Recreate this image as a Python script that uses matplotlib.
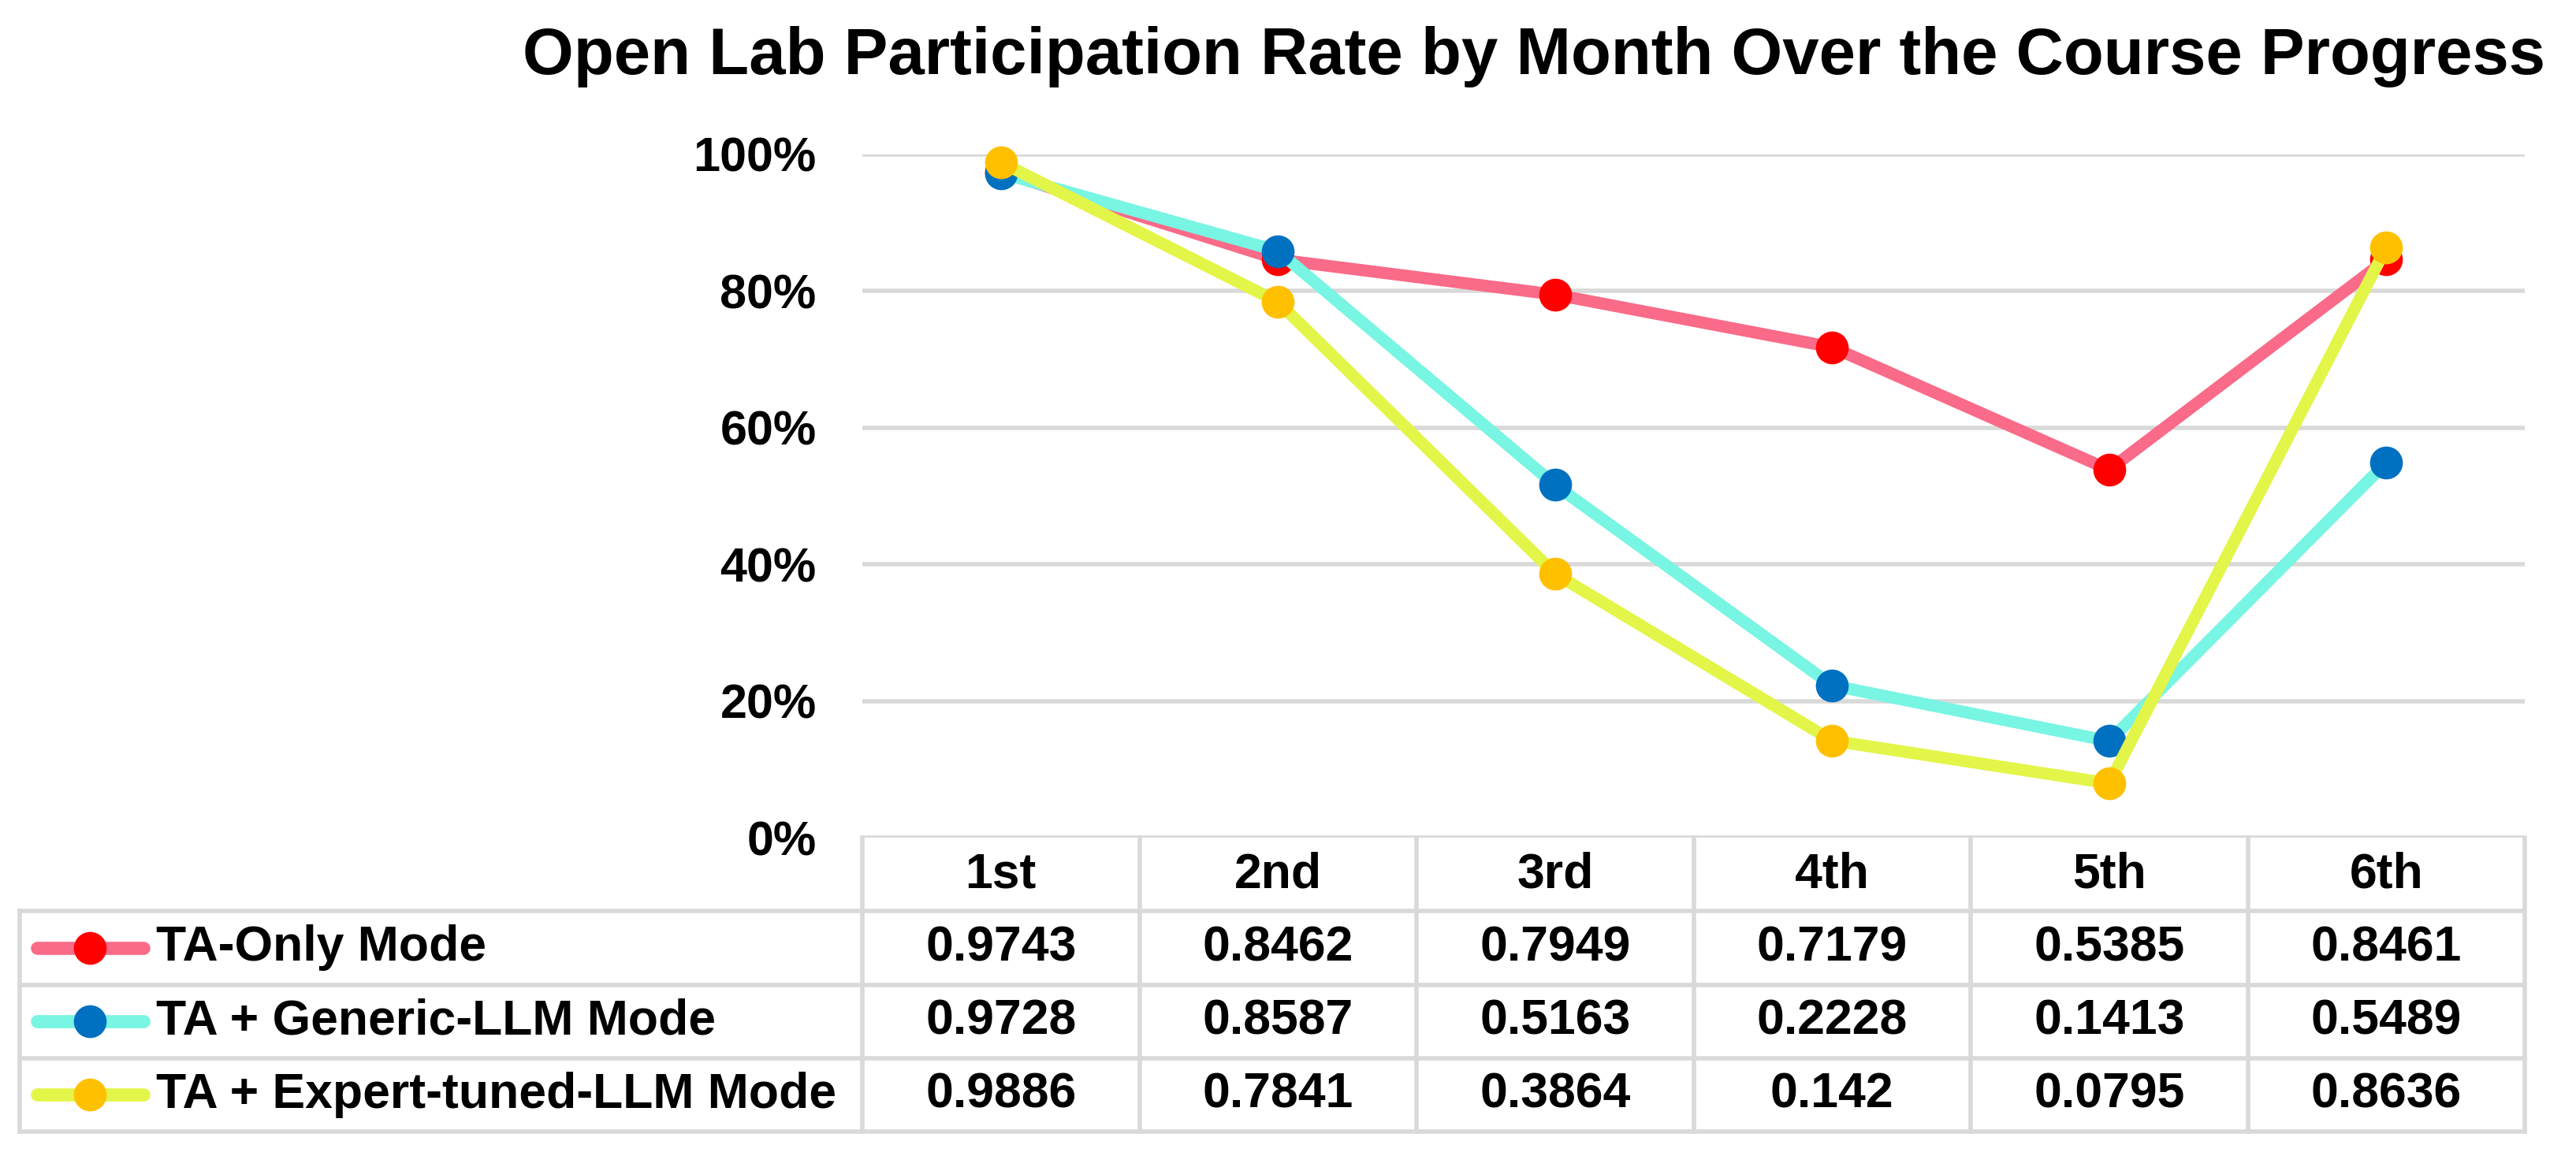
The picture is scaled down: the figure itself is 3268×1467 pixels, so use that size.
import matplotlib
matplotlib.use("Agg")
import matplotlib.pyplot as plt
from matplotlib.ticker import PercentFormatter

plt.rcParams['font.family'] = ['Liberation Sans', 'DejaVu Sans']
plt.rcParams['font.weight'] = 'bold'

months = ["1st", "2nd", "3rd", "4th", "5th", "6th"]
series_names = ["TA-Only Mode", "TA + Generic-LLM Mode", "TA + Expert-tuned-LLM Mode"]
ta_only = [0.9743, 0.8462, 0.7949, 0.7179, 0.5385, 0.8461]
ta_generic = [0.9728, 0.8587, 0.5163, 0.2228, 0.1413, 0.5489]
ta_expert = [0.9886, 0.7841, 0.3864, 0.142, 0.0795, 0.8636]
value_labels = [
    ["0.9743", "0.8462", "0.7949", "0.7179", "0.5385", "0.8461"],
    ["0.9728", "0.8587", "0.5163", "0.2228", "0.1413", "0.5489"],
    ["0.9886", "0.7841", "0.3864", "0.142", "0.0795", "0.8636"],
]
yticks = [0, 0.2, 0.4, 0.6, 0.8, 1.0]

line_colors = ["#F96B88", "#78F5E3", "#E3F548"]
marker_colors = ["#FF0000", "#0070C0", "#FFC000"]
grid_color = "#D9D9D9"

W, H = 3268, 1467
dpi = 200
fig = plt.figure(figsize=(W / dpi, H / dpi), dpi=dpi)

LW = 5.5
MS = 15

ax_l, ax_r = 1094 / W, 3203 / W
ax_b, ax_t = 1 - 1063 / H, 1 - 196 / H
ax = fig.add_axes([ax_l, ax_b, ax_r - ax_l, ax_t - ax_b])
x = list(range(len(months)))
for vals, lc, mc in zip([ta_only, ta_generic, ta_expert], line_colors, marker_colors):
    ax.plot(x, vals, color=lc, lw=LW, marker='o', markersize=MS,
            markerfacecolor=mc, markeredgecolor=mc, markeredgewidth=0,
            clip_on=False, zorder=3, solid_capstyle='round', solid_joinstyle='round')
ax.set_xlim(-0.5, 5.5)
ax.set_ylim(0, 1.0)
ax.set_yticks(yticks)
ax.yaxis.set_major_formatter(PercentFormatter(1.0, decimals=0))
ax.tick_params(axis='y', length=0, pad=21, labelsize=22)
ax.tick_params(axis='x', length=0, labelbottom=False)
for s in ax.spines.values():
    s.set_visible(False)
ax.grid(axis='y', color=grid_color, lw=2.0, zorder=0)
ax.set_axisbelow(True)

# data table
tb_l = 25 / W
tb_b = 1 - 1436 / H
tab = fig.add_axes([tb_l, tb_b, ax_r - tb_l, ax_b - tb_b])
unit = (3203 - 1094) / 6.0
x_left = -0.5 - (1094 - 25) / unit
tab.set_xlim(x_left, 5.5)
tab.set_ylim(4, 0)
tab.axis('off')
lw_t = 2.0
for r in [1, 2, 3, 4]:
    tab.plot([x_left, 5.5], [r, r], color=grid_color, lw=lw_t, clip_on=False, solid_capstyle='projecting')
for c in range(7):
    tab.plot([c - 0.5, c - 0.5], [0, 4], color=grid_color, lw=lw_t, clip_on=False, solid_capstyle='projecting')
tab.plot([x_left, x_left], [1, 4], color=grid_color, lw=lw_t, clip_on=False, solid_capstyle='projecting')

fs = 22.5
for i, m in enumerate(months):
    tab.text(i, 0.5, m, ha='center', va='center', fontsize=fs, fontweight='bold')
lx0 = -0.5 - (1094 - 47) / unit
lx1 = -0.5 - (1094 - 182) / unit
lxm = -0.5 - (1094 - 114) / unit
tx = -0.5 - (1094 - 198) / unit
for r, (name, labels) in enumerate(zip(series_names, value_labels)):
    yy = r + 1.5
    for i, lab in enumerate(labels):
        tab.text(i, yy, lab, ha='center', va='center', fontsize=fs, fontweight='bold')
    tab.plot([lx0, lx1], [yy, yy], color=line_colors[r], lw=6, solid_capstyle='round', clip_on=False)
    tab.plot([lxm], [yy], marker='o', markersize=MS, markeredgewidth=0, color=marker_colors[r], clip_on=False)
    tab.text(tx, yy, name, ha='left', va='center', fontsize=fs, fontweight='bold')

fig.text(1946 / W, 1 - 94 / H, "Open Lab Participation Rate by Month Over the Course Progress",
         ha='center', va='baseline', fontsize=30, fontweight='bold')

fig.savefig("out.png", dpi=dpi)
